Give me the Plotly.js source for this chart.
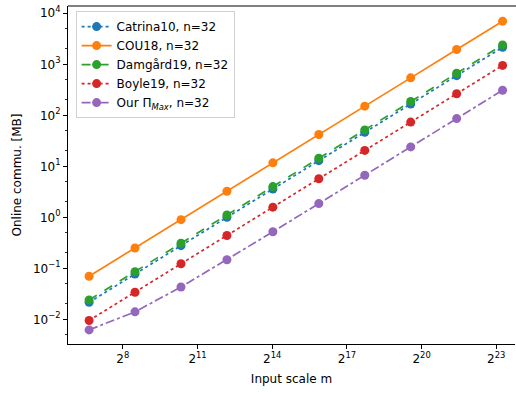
<!DOCTYPE html>
<html>
<head>
<meta charset="utf-8">
<script src="https://cdn.plot.ly/plotly-3.0.1.min.js"></script>
<style>html,body{margin:0;padding:0;background:#fff;overflow:hidden;}#chart{width:516px;height:394px;}</style>
</head>
<body>
<div id="chart"></div>
<script>
// Input scale m (x values)
const inputScale = [100, 359, 1292, 4642, 16681, 59948, 215443, 774264, 2782559, 10000000];
// Online communication [MB]
const catrina10 = [0.0215, 0.077, 0.278, 1.0, 3.59, 12.9, 46.3, 166, 598, 2150];
const cou18     = [0.070, 0.25, 0.90, 3.25, 11.7, 42, 151, 542, 1950, 7000];
const damgard19 = [0.024, 0.086, 0.31, 1.11, 4.0, 14.4, 51.7, 186, 668, 2400];
const boyle19   = [0.0095, 0.034, 0.123, 0.44, 1.58, 5.7, 20.5, 73.5, 264, 950];
const ourMax    = [0.0062, 0.014, 0.043, 0.147, 0.52, 1.86, 6.68, 24.0, 86.3, 310];

const seriesNames = ["Catrina10, n=32", "COU18, n=32", "Damgård19, n=32", "Boyle19, n=32", "Our Π<sub><i>Max</i></sub>, n=32"];
const seriesData = [catrina10, cou18, damgard19, boyle19, ourMax];
const colors = ["#1f77b4", "#ff7f0e", "#2ca02c", "#d62728", "#9467bd"];
const dashes = ["dot", "solid", "dash", "dot", "dashdot"];

const xTickVals = [256, 2048, 16384, 131072, 1048576, 8388608];
const xTickText = ["2<sup>8</sup>", "2<sup>11</sup>", "2<sup>14</sup>", "2<sup>17</sup>", "2<sup>20</sup>", "2<sup>23</sup>"];
const yTickVals = [0.01, 0.1, 1, 10, 100, 1000, 10000];
const yTickText = ["10<sup>−2</sup>", "10<sup>−1</sup>", "10<sup>0</sup>", "10<sup>1</sup>", "10<sup>2</sup>", "10<sup>3</sup>", "10<sup>4</sup>"];

const traces = seriesData.map((d, i) => ({
  x: inputScale, y: d, name: seriesNames[i], type: "scatter", mode: "lines+markers",
  line: {color: colors[i], width: 1.7, dash: dashes[i]},
  marker: {color: colors[i], size: 9}
}));

const font = {family: "DejaVu Sans", size: 12, color: "#000"};
const layout = {
  width: 516, height: 394,
  margin: {l: 68, r: 1, t: 6, b: 50},
  paper_bgcolor: "#fff", plot_bgcolor: "#fff",
  font: font,
  showlegend: true,
  legend: {x: 0.017, y: 0.985, xanchor: "left", yanchor: "top",
    bgcolor: "rgba(255,255,255,0.8)", bordercolor: "#d0d0d0", borderwidth: 1,
    font: font},
  xaxis: {type: "log", range: [1.745, 7.15], tickmode: "array", tickvals: xTickVals, ticktext: xTickText,
    showgrid: false, zeroline: false, showline: true, linecolor: "#000", linewidth: 1, mirror: false,
    ticks: "outside", ticklen: 4, tickcolor: "#000", tickwidth: 1,
    title: {text: "Input scale m", font: font, standoff: 9}},
  yaxis: {type: "log", range: [-2.484, 4.143], tickmode: "array", tickvals: yTickVals, ticktext: yTickText,
    showgrid: false, zeroline: false, showline: true, linecolor: "#000", linewidth: 1, mirror: false,
    ticks: "outside", ticklen: 4, tickcolor: "#000", tickwidth: 1,
    minor: {ticks: "outside", ticklen: 2, tickcolor: "#000", tickwidth: 0.8, showgrid: false},
    title: {text: "Online commu. [MB]", font: font, standoff: 8}},
  shapes: [{type: "line", xref: "paper", yref: "paper", x0: 0, x1: 1.003, y0: 1, y1: 1,
    line: {color: "#000", width: 1}}]
};

Plotly.newPlot("chart", traces, layout, {displayModeBar: false, staticPlot: true});
</script>
</body>
</html>
